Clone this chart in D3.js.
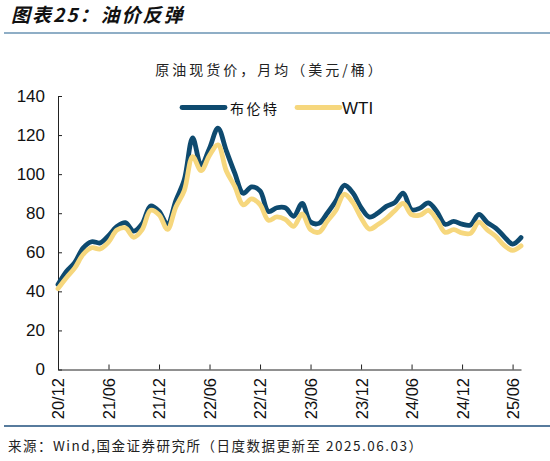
<!DOCTYPE html>
<html><head><meta charset="utf-8">
<script src="https://cdn.jsdelivr.net/npm/d3@7"></script>
<style>body{margin:0;background:#fff}svg{display:block}</style>
</head><body><svg id="c" width="550" height="461"></svg>
<script>
const months = ["2020-11","2020-12","2021-01","2021-02","2021-03","2021-04","2021-05","2021-06","2021-07","2021-08","2021-09","2021-10","2021-11","2021-12",
"2022-01","2022-02","2022-03","2022-04","2022-05","2022-06","2022-07","2022-08","2022-09","2022-10","2022-11","2022-12",
"2023-01","2023-02","2023-03","2023-04","2023-05","2023-06","2023-07","2023-08","2023-09","2023-10","2023-11","2023-12",
"2024-01","2024-02","2024-03","2024-04","2024-05","2024-06","2024-07","2024-08","2024-09","2024-10","2024-11","2024-12",
"2025-01","2025-02","2025-03","2025-04","2025-05","2025-06"];
const brent = [43.5,50.2,54.8,62.3,65.4,64.8,68.5,73.2,75.2,70.8,74.6,83.7,81.0,74.3,
86.5,97.1,118.5,104.6,113.3,123.5,111.9,100.5,90.2,93.5,91.4,80.9,
82.8,82.8,78.4,85.0,75.5,74.8,80.1,86.2,94.3,90.6,82.9,78.0,
80.1,83.5,85.4,90.3,81.8,82.6,85.3,80.9,74.3,75.8,74.4,74.0,
79.4,75.2,72.4,68.0,64.2,67.5];
const wti = [41.4,47.0,52.0,59.0,62.3,61.7,65.2,71.4,72.5,67.7,71.6,81.5,79.2,71.7,
83.2,91.6,109.0,101.8,109.6,115.0,101.6,93.7,84.3,87.3,84.4,76.4,
78.1,76.8,73.3,79.6,71.6,70.3,76.0,81.4,89.7,85.6,77.7,71.9,
74.2,77.3,81.3,85.0,79.3,79.0,81.4,76.7,70.2,71.6,69.9,69.7,
75.4,71.5,68.2,63.5,61.0,63.3];
const tickMonths = ["2020-11","2021-05","2021-11","2022-05","2022-11","2023-05","2023-11","2024-05","2024-11","2025-05"];
const tickLabels = ["20/12","21/06","21/12","22/06","22/12","23/06","23/12","24/06","24/12","25/06"];
const yTicks = [0,20,40,60,80,100,120,140];
const seriesNames = ["布伦特","WTI"];
const colors = ["#0e4a6f","#f6d77d"];

const svg = d3.select("#c");
const cjk = "'Noto Sans CJK SC', sans-serif";
const lat = "'Liberation Sans', Arial, sans-serif";

// header
svg.append("text").attr("x",11).attr("y",22)
  .attr("font-family",cjk).attr("font-size",19).attr("font-weight",700)
  .attr("font-style","italic").attr("fill","#111").attr("letter-spacing",2)
  .text("图表25：油价反弹");
svg.append("line").attr("x1",4).attr("x2",550).attr("y1",33).attr("y2",33)
  .attr("stroke","#6a93b3").attr("stroke-width",1.5);

svg.append("text").attr("x",270).attr("y",75).attr("text-anchor","middle")
  .attr("font-family",cjk).attr("font-size",14).attr("letter-spacing",3).attr("fill","#222")
  .text("原油现货价，月均（美元/桶）");

const x = d3.scalePoint().domain(months).range([58,521]);
const y = d3.scaleLinear().domain([0,140]).range([369.5,96]);

const xAxis = svg.append("g").attr("transform","translate(0,369.5)")
  .call(d3.axisBottom(x).tickValues(tickMonths).tickFormat((d,i)=>tickLabels[i]).tickSizeInner(-5).tickSizeOuter(0));
xAxis.selectAll("text").attr("transform","rotate(-90)").attr("text-anchor","end")
  .attr("x",-8.5).attr("y",0).attr("dy","0.36em")
  .attr("font-family",lat).attr("font-size",16.5).attr("fill","#111");

const yAxis = svg.append("g").attr("transform","translate(58,0)")
  .call(d3.axisLeft(y).tickValues(yTicks).tickSizeInner(-4).tickSizeOuter(0).tickPadding(13));
yAxis.selectAll("text").attr("font-family","'Liberation Sans Narrow', 'Arial Narrow', "+lat)
  .attr("font-size",17).attr("fill","#111");
svg.selectAll(".domain, .tick line").attr("stroke","#222");

const line = d3.line().x((d,i)=>x(months[i])).y(d=>y(d)).curve(d3.curveCatmullRom.alpha(0.5));
[brent, wti].forEach((s,k)=>{
  svg.append("path").datum(s).attr("d",line).attr("fill","none")
    .attr("stroke",colors[k]).attr("stroke-width",4.8).attr("stroke-linejoin","round").attr("stroke-linecap","round");
});

// legend
const leg = [{x1:182,x2:225,tx:230},{x1:297,x2:340,tx:342}];
leg.forEach((l,k)=>{
  svg.append("line").attr("x1",l.x1).attr("x2",l.x2).attr("y1",107.5).attr("y2",107.5)
    .attr("stroke",colors[k]).attr("stroke-width",4.8).attr("stroke-linecap","round");
  svg.append("text").attr("x",l.tx).attr("y",113.5)
    .attr("font-family",k===0?cjk:lat).attr("font-size",k===0?14:17)
    .attr("letter-spacing",k===0?2.5:0).attr("fill","#111").text(seriesNames[k]);
});

// footer
svg.append("line").attr("x1",4).attr("x2",550).attr("y1",426).attr("y2",426)
  .attr("stroke","#1f4f7c").attr("stroke-width",1.5);
svg.append("text").attr("x",8).attr("y",451)
  .attr("font-family",cjk).attr("font-size",13.5).attr("letter-spacing",1.5).attr("fill","#222")
  .text("来源：Wind,国金证券研究所（日度数据更新至 2025.06.03）");
</script></body></html>
